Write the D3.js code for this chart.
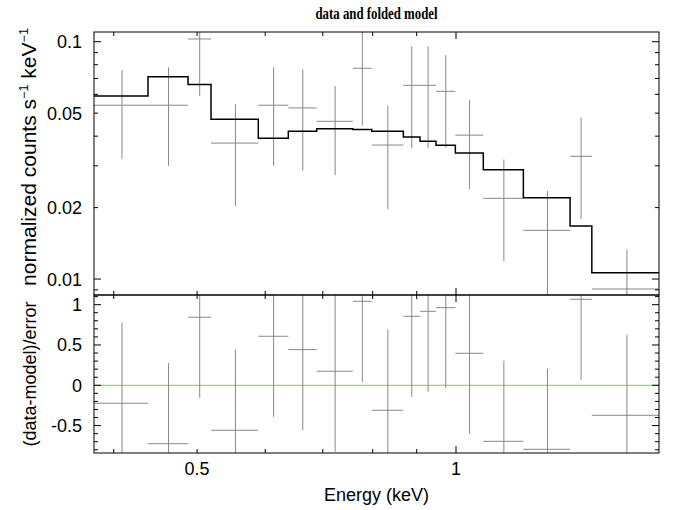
<!DOCTYPE html>
<html>
<head>
<meta charset="utf-8">
<script src="https://cdn.jsdelivr.net/npm/d3@7"></script>
<style>
  body { margin: 0; background: #fff; }
  text { font-family: "Liberation Sans", Arial, sans-serif; }
  text.title { font-family: "Liberation Serif", "Times New Roman", serif; font-weight: bold; }
</style>
</head>
<body>
<div id="graphicContainer"></div>
<script>

// bin edges (keV), 17 channels
var binEdges = [0.3794, 0.4384, 0.4880, 0.5190, 0.5890, 0.6383, 0.6887, 0.7584, 0.7980,
	0.8685, 0.9081, 0.9478, 0.9982, 1.0758, 1.1976, 1.3572, 1.4385, 1.7219]

var rate = [0.0540, 0.0540, 0.1027, 0.0374, 0.0540, 0.0526, 0.0462, 0.0773, 0.0367,
	0.0655, 0.0655, 0.0618, 0.0404, 0.02188, 0.01604, 0.0329, 0.00908]

var rateErr = [0.022, 0.024, 0.0437, 0.0171, 0.024, 0.024, 0.0188, 0.033, 0.017,
	0.030, 0.030, 0.026, 0.0165, 0.010, 0.0075, 0.015, 0.0042]

var model = [0.0590, 0.0712, 0.0661, 0.0471, 0.0392, 0.0420, 0.0430, 0.0427, 0.0420,
	0.0397, 0.0381, 0.0366, 0.0340, 0.02888, 0.0220, 0.01672, 0.01063]

var resid = [-0.223, -0.725, 0.844, -0.558, 0.608, 0.442, 0.174, 1.042, -0.31,
	0.856, 0.918, 0.963, 0.397, -0.695, -0.794, 1.067, -0.372]

var topTickLabels = [0.01, 0.02, 0.05, 0.1]
var resTickLabels = [-0.5, 0, 0.5, 1]
var xTickLabels = [0.5, 1]

var width = 676, height = 510
// plot frame (window.top is reserved, so use a margin object)
var m = {left: 94, right: 659, top: 32, mid: 295, bottom: 453}

var svg = d3.select("#graphicContainer").append("svg")
	.attr("width", width)
	.attr("height", height)

var x = d3.scaleLog().domain([0.3794, 1.7219]).range([m.left, m.right])
var y = d3.scaleLog().domain([0.008565, 0.1099]).range([m.mid, m.top])
var yr = d3.scaleLinear().domain([-0.84, 1.12]).range([m.bottom, m.mid])

var bins = rate.map((d, i) => ({
	lo: binEdges[i], hi: binEdges[i + 1],
	mid: (binEdges[i] + binEdges[i + 1]) / 2,
	rate: d, err: rateErr[i], model: model[i], resid: resid[i]
}))

var defs = svg.append("defs")
defs.append("clipPath").attr("id", "clipTop")
	.append("rect").attr("x", m.left).attr("y", m.top).attr("width", m.right - m.left).attr("height", m.mid - m.top)
defs.append("clipPath").attr("id", "clipBot")
	.append("rect").attr("x", m.left).attr("y", m.mid).attr("width", m.right - m.left).attr("height", m.bottom - m.mid)

var dataCol = "#888"

// top panel : data crosses
var gTop = svg.append("g").attr("clip-path", "url(#clipTop)")

gTop.selectAll(".hbar").data(bins).join("line")
	.attr("x1", d => x(d.lo)).attr("x2", d => x(d.hi))
	.attr("y1", d => y(d.rate)).attr("y2", d => y(d.rate))
	.attr("stroke", dataCol).attr("stroke-width", 1)

gTop.selectAll(".vbar").data(bins).join("line")
	.attr("x1", d => x(d.mid)).attr("x2", d => x(d.mid))
	.attr("y1", d => y(d.rate + d.err)).attr("y2", d => y(Math.max(d.rate - d.err, 1e-4)))
	.attr("stroke", dataCol).attr("stroke-width", 1)

// folded model as steps
var stepPts = []
bins.forEach(d => {
	stepPts.push([x(d.lo), y(d.model)])
	stepPts.push([x(d.hi), y(d.model)])
})
gTop.append("path")
	.attr("d", d3.line()(stepPts))
	.attr("fill", "none")
	.attr("stroke", "#000")
	.attr("stroke-width", 1.5)

// bottom panel : residuals
var gBot = svg.append("g").attr("clip-path", "url(#clipBot)")

gBot.append("line")
	.attr("x1", m.left).attr("x2", m.right)
	.attr("y1", yr(0)).attr("y2", yr(0))
	.attr("stroke", "#5ddc5d").attr("stroke-width", 1)

gBot.selectAll(".rh").data(bins).join("line")
	.attr("x1", d => x(d.lo)).attr("x2", d => x(d.hi))
	.attr("y1", d => yr(d.resid)).attr("y2", d => yr(d.resid))
	.attr("stroke", dataCol).attr("stroke-width", 1)

gBot.selectAll(".rv").data(bins).join("line")
	.attr("x1", d => x(d.mid)).attr("x2", d => x(d.mid))
	.attr("y1", d => yr(d.resid + 1)).attr("y2", d => yr(d.resid - 1))
	.attr("stroke", dataCol).attr("stroke-width", 1)

// frames
var frame = svg.append("g").attr("fill", "none").attr("stroke", "#000").attr("stroke-width", 1)
frame.append("rect").attr("x", m.left).attr("y", m.top).attr("width", m.right - m.left).attr("height", m.mid - m.top)
frame.append("rect").attr("x", m.left).attr("y", m.mid).attr("width", m.right - m.left).attr("height", m.bottom - m.mid)

var ticks = svg.append("g").attr("stroke", "#000").attr("stroke-width", 1)
var minorLen = 4, majorLen = 7

// x ticks on every horizontal edge
var xMinor = [0.4, 0.5, 0.6, 0.7, 0.8, 0.9]
var xMajor = [1]
function xTicks(yy, dir) {
	xMinor.forEach(v => ticks.append("line")
		.attr("x1", x(v)).attr("x2", x(v)).attr("y1", yy).attr("y2", yy + dir * minorLen))
	xMajor.forEach(v => ticks.append("line")
		.attr("x1", x(v)).attr("x2", x(v)).attr("y1", yy).attr("y2", yy + dir * majorLen))
}
xTicks(m.top, 1)
xTicks(m.mid, -1)
xTicks(m.mid, 1)
xTicks(m.bottom, -1)

// top panel y ticks (log)
var yMinor = [0.009, 0.02, 0.03, 0.04, 0.05, 0.06, 0.07, 0.08, 0.09]
var yMajor = [0.01, 0.1]
;[[m.left, 1], [m.right, -1]].forEach(([xx, dir]) => {
	yMinor.forEach(v => ticks.append("line")
		.attr("x1", xx).attr("x2", xx + dir * minorLen).attr("y1", y(v)).attr("y2", y(v)))
	yMajor.forEach(v => ticks.append("line")
		.attr("x1", xx).attr("x2", xx + dir * majorLen).attr("y1", y(v)).attr("y2", y(v)))
})

// residual y ticks
var rMinor = d3.range(-8, 12).map(d => d / 10).filter(d => Math.abs(d * 2 - Math.round(d * 2)) > 1e-6)
;[[m.left, 1], [m.right, -1]].forEach(([xx, dir]) => {
	rMinor.forEach(v => ticks.append("line")
		.attr("x1", xx).attr("x2", xx + dir * minorLen).attr("y1", yr(v)).attr("y2", yr(v)))
	resTickLabels.forEach(v => ticks.append("line")
		.attr("x1", xx).attr("x2", xx + dir * majorLen).attr("y1", yr(v)).attr("y2", yr(v)))
})

// labels
var fs = 18
svg.append("g").selectAll("text").data(topTickLabels).join("text")
	.attr("x", m.left - 12).attr("y", d => y(d)).attr("dy", "0.36em")
	.attr("text-anchor", "end").attr("font-size", fs)
	.text(d => d)

svg.append("g").selectAll("text").data(resTickLabels).join("text")
	.attr("x", m.left - 12).attr("y", d => yr(d)).attr("dy", "0.36em")
	.attr("text-anchor", "end").attr("font-size", fs)
	.text(d => d)

svg.append("g").selectAll("text").data(xTickLabels).join("text")
	.attr("x", d => x(d)).attr("y", 475)
	.attr("text-anchor", "middle").attr("font-size", fs)
	.text(d => d)

svg.append("text")
	.attr("x", (m.left + m.right) / 2).attr("y", 501)
	.attr("text-anchor", "middle").attr("font-size", 18)
	.text("Energy (keV)")

svg.append("text")
	.attr("class", "title")
	.attr("x", (m.left + m.right) / 2).attr("y", 19)
	.attr("text-anchor", "middle")
	.attr("font-size", 16)
	.attr("textLength", 122).attr("lengthAdjust", "spacingAndGlyphs")
	.text("data and folded model")

var yl = svg.append("text")
	.attr("transform", "translate(36," + 157 + ") rotate(-90)")
	.attr("text-anchor", "middle").attr("font-size", 20)
	.attr("textLength", 258).attr("lengthAdjust", "spacingAndGlyphs")
yl.append("tspan").text("normalized counts s")
yl.append("tspan").attr("dy", -8).attr("font-size", 12).text("−1")
yl.append("tspan").attr("dy", 8).text(" keV")
yl.append("tspan").attr("dy", -8).attr("font-size", 12).text("−1")

svg.append("text")
	.attr("transform", "translate(36," + 374 + ") rotate(-90)")
	.attr("text-anchor", "middle").attr("font-size", 18)
	.text("(data-model)/error")

</script>
</body>
</html>
